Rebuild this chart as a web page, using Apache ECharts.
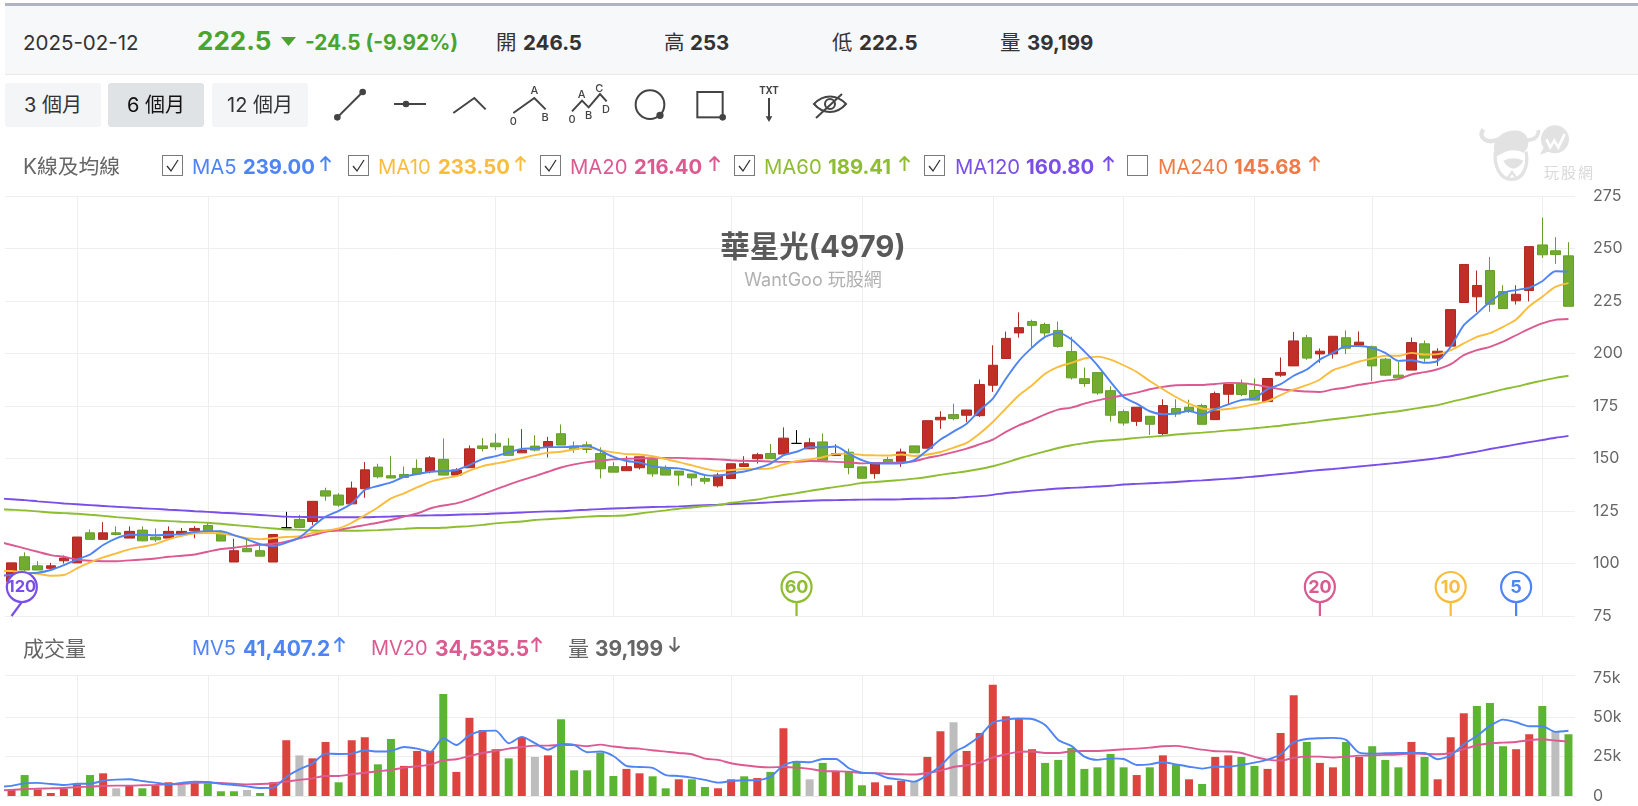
<!DOCTYPE html>
<html lang="zh-Hant">
<head>
<meta charset="utf-8">
<title>華星光(4979) K線圖</title>
<script src="https://cdn.jsdelivr.net/npm/echarts@6/dist/echarts.min.js"></script>
<style>
  html, body { margin: 0; padding: 0; background: #fff; width: 1638px; height: 806px; overflow: hidden; }
  body { font-family: Inter, "Noto Sans CJK TC", sans-serif; color: #333; position: relative; }
  #chart { position: absolute; left: 0; top: 0; width: 1638px; height: 806px; }
  .bar-top { position: absolute; left: 5px; right: 0; top: 3px; height: 3px; background: #b1b3c1; }
  .panel { position: absolute; left: 5px; right: 0; top: 6px; height: 68px; background: #f7f8fa; border-bottom: 1px solid #e9e9e9; }
  .t { position: absolute; white-space: nowrap; line-height: 1; }
  .b { font-weight: 700; }
  .h { font-size: 20.5px; top: 33px; }
  .btn { position: absolute; top: 83px; height: 44px; line-height: 44px; text-align: center; background: #f4f5f7; border-radius: 3px; font-size: 20px; color: #333; }
  .btn.on { background: #dfe3e6; color: #111; }
  .cb { position: absolute; top: 155px; width: 19px; height: 19px; border: 1px solid #7a7a7a; background: #fff; }
  .cb svg { position: absolute; left: 2px; top: 2px; }
  .ar { position: absolute; width: 13px; height: 15px; }
  svg.overlay { position: absolute; overflow: visible; }
  .m { font-size: 20.3px; top: 157px; }
  .v { font-size: 20.3px; top: 157px; font-weight: 700; }
  .m2 { font-size: 20px; top: 638px; }
  .v2 { font-size: 21px; top: 638px; font-weight: 700; }
</style>
</head>
<body>
<div id="chart"></div>

<div class="bar-top"></div>
<div class="panel"></div>
<span class="t h" style="left:23px;color:#333">2025-02-12</span>
<span class="t b" style="left:197px;top:28px;font-size:26px;color:#4aa52f">222.5</span>
<svg class="overlay" style="left:281px;top:37px" width="16" height="9"><path d="M0 0H15L7.5 9Z" fill="#4aa52f"/></svg>
<span class="t b h" style="left:305px;font-size:20.8px;color:#4aa52f">-24.5 (-9.92%)</span>
<span class="t h" style="left:496px">開</span><span class="t b h" style="left:523px">246.5</span>
<span class="t h" style="left:664px">高</span><span class="t b h" style="left:690px">253</span>
<span class="t h" style="left:832px">低</span><span class="t b h" style="left:859px">222.5</span>
<span class="t h" style="left:1000px">量</span><span class="t b h" style="left:1027px">39,199</span>

<div class="btn" style="left:5px;width:96px">3 個月</div>
<div class="btn on" style="left:108px;width:96px">6 個月</div>
<div class="btn" style="left:212px;width:96px">12 個月</div>

<!-- drawing tools -->
<svg class="overlay" style="left:320px;top:78px" width="520" height="52" viewBox="0 0 1560 156"
     fill="none" stroke="#444" stroke-width="6" font-family="Inter, sans-serif">
  <path d="M52 118L128 42"/><circle cx="52" cy="118" r="7" fill="#444"/><circle cx="128" cy="42" r="7" fill="#444"/>
  <path d="M222 78H318"/><circle cx="258" cy="78" r="7" fill="#444"/>
  <path d="M400 105L463 60L497 94"/>
  <path d="M580 105L643 60L677 94"/>
  <path d="M756 100L786 68L806 88L840 48L860 70"/>
  <circle cx="990" cy="80" r="43"/><circle cx="1020" cy="112" r="8" fill="#444"/>
  <rect x="1132" y="42" width="76" height="76"/><circle cx="1208" cy="118" r="7" fill="#444"/>
  <path d="M1347 60V124"/><path d="M1337 115H1357L1347 132Z" fill="#444" stroke="none"/>
  <path d="M1482 78C1510 48 1550 48 1578 78C1550 110 1510 110 1482 78Z"/>
  <circle cx="1530" cy="78" r="15"/><path d="M1488 120L1566 48"/>
  <g fill="#444" stroke="none" font-size="33" font-weight="500" text-anchor="middle">
    <text x="643" y="49">A</text><text x="675" y="130">B</text><text x="580" y="142">0</text>
    <text x="785" y="60">A</text><text x="806" y="124">B</text><text x="756" y="134">0</text>
    <text x="838" y="42">C</text><text x="858" y="104">D</text>
    <text x="1347" y="49" font-size="29" font-weight="700">TXT</text>
  </g>
</svg>

<!-- moving average legend -->
<svg width="0" height="0" style="position:absolute">
  <symbol id="up" viewBox="0 0 13 15"><path d="M6.5 15V1M1.5 6L6.5 1L11.5 6" fill="none" stroke="currentColor" stroke-width="2"/></symbol>
  <symbol id="dn" viewBox="0 0 13 15"><path d="M6.5 0V14M1.5 9L6.5 14L11.5 9" fill="none" stroke="currentColor" stroke-width="2"/></symbol>
  <symbol id="tick" viewBox="0 0 15 15"><path d="M2 8L6 13L13 2" fill="none" stroke="#333" stroke-width="1.3"/></symbol>
</svg>
<span class="t" style="left:23px;top:157px;font-size:20.8px;color:#666">K線及均線</span>

<div class="cb" style="left:162px"><svg width="15" height="15"><use href="#tick"/></svg></div>
<span class="t m" style="left:192px;color:#4e84f4">MA5</span><span class="t v" style="left:243px;color:#4e84f4">239.00</span>
<svg class="ar" style="left:319px;top:156px;color:#4e84f4"><use href="#up"/></svg>

<div class="cb" style="left:348px"><svg width="15" height="15"><use href="#tick"/></svg></div>
<span class="t m" style="left:378px;color:#f9bd3d">MA10</span><span class="t v" style="left:438px;color:#f9bd3d">233.50</span>
<svg class="ar" style="left:514px;top:156px;color:#f9bd3d"><use href="#up"/></svg>

<div class="cb" style="left:540px"><svg width="15" height="15"><use href="#tick"/></svg></div>
<span class="t m" style="left:570px;color:#dc5a92">MA20</span><span class="t v" style="left:634px;color:#dc5a92">216.40</span>
<svg class="ar" style="left:708px;top:156px;color:#dc5a92"><use href="#up"/></svg>

<div class="cb" style="left:734px"><svg width="15" height="15"><use href="#tick"/></svg></div>
<span class="t m" style="left:764px;color:#8ebd32">MA60</span><span class="t v" style="left:828px;color:#8ebd32">189.41</span>
<svg class="ar" style="left:898px;top:156px;color:#8ebd32"><use href="#up"/></svg>

<div class="cb" style="left:924px"><svg width="15" height="15"><use href="#tick"/></svg></div>
<span class="t m" style="left:955px;color:#7a4fe8">MA120</span><span class="t v" style="left:1026px;color:#7a4fe8">160.80</span>
<svg class="ar" style="left:1102px;top:156px;color:#7a4fe8"><use href="#up"/></svg>

<div class="cb" style="left:1127px"></div>
<span class="t m" style="left:1158px;color:#f07b47">MA240</span><span class="t v" style="left:1234px;color:#f07b47">145.68</span>
<svg class="ar" style="left:1308px;top:156px;color:#f07b47"><use href="#up"/></svg>

<!-- site mark -->
<svg class="overlay" style="left:1470px;top:120px" width="100" height="70" viewBox="0 0 300 210" fill="none">
  <path d="M40 28C22 52 50 74 88 58" stroke="#e2e2e2" stroke-width="13"/>
  <path d="M205 30C207 50 192 62 165 60" stroke="#e2e2e2" stroke-width="11"/>
  <path d="M72 88C70 44 122 22 156 36C182 50 180 86 160 98C130 84 108 92 76 112Z" fill="#e2e2e2"/>
  <path d="M76 95C72 135 88 178 125 178C162 178 176 135 168 95" stroke="#e2e2e2" stroke-width="10"/>
  <path d="M100 122Q130 108 160 122Q150 142 130 146Q110 142 100 122Z" fill="#e2e2e2"/>
  <path d="M112 176L126 156L140 176" stroke="#e2e2e2" stroke-width="7"/>
  <circle cx="255" cy="58" r="42" fill="#e2e2e2"/><path d="M222 80L210 104L240 94Z" fill="#e2e2e2"/>
  <path d="M229 58L241 82L253 62L265 82L284 42" stroke="#fff" stroke-width="8"/>
</svg>
<span class="t" style="left:1544px;top:165px;font-size:15px;letter-spacing:2px;color:#d9d9d9">玩股網</span>

<!-- volume legend -->
<span class="t" style="left:23px;top:638px;font-size:21px;color:#666">成交量</span>
<span class="t m2" style="left:192px;color:#4e84f4">MV5</span><span class="t v2" style="left:243px;color:#4e84f4">41,407.2</span>
<svg class="ar" style="left:333px;top:637px;color:#4e84f4"><use href="#up"/></svg>
<span class="t m2" style="left:371px;color:#dc5a92">MV20</span><span class="t v2" style="left:435px;color:#dc5a92">34,535.5</span>
<svg class="ar" style="left:530px;top:637px;color:#dc5a92"><use href="#up"/></svg>
<span class="t m2" style="left:568px;font-size:21px;color:#666">量</span><span class="t v2" style="left:595px;color:#666">39,199</span>
<svg class="ar" style="left:668px;top:637px;color:#666"><use href="#dn"/></svg>

<script>
// Daily candles, oldest session first
const opens = [
  91.5,103.2,98.9,97.7,101.3,100.3,114.6,111.5,114.6,112.1,
  115.9,112.6,112.1,114,115.6,118.1,114.6,100.7,107.2,106.1,
  100.7,117,121,120,134.6,132.6,128.4,135.6,145.9,141.8,
  142.4,145.3,143.7,149.6,142.1,145.6,156,157.3,155.9,152.7,
  155.9,155.6,161.8,155.9,156.5,152.4,146.1,144.2,145.6,149.6,
  145.6,144,142.6,140.5,137,140.5,146.2,149.9,152.4,152.1,
  157.2,154.6,157.9,151.4,153,146,142.8,149.5,148.5,156,
  154.9,168.4,170.9,170.6,170.4,184.9,197.6,209.8,215.2,213.8,
  210.9,200.9,188,190.9,182.3,172.3,167.7,170.1,161.9,173.8,
  174.4,175.2,168.5,180.6,185.7,182.4,177.1,189.7,194.1,207.5,
  199.8,199.8,207.5,204,203.2,197.3,189.7,192.1,204.6,197.8,
  203.5,224.3,227,239.5,229.5,225.1,230,251.7,248.9,246.5
];
const closes = [
  100.3,96.9,96.9,98.9,102.6,112.6,111.5,114.6,113.8,115.3,
  110.8,111.3,115.3,115.3,116.7,115.6,110.7,106.1,105.6,103.5,
  113.8,117,117.2,129.6,132.1,127.8,135.9,144.6,141.3,140.7,
  141,142.6,150.3,142.1,144.5,154.6,154.8,155.6,151.5,154,
  154,158.1,156.4,154.3,154.3,145.1,143.5,146.1,150.8,142.7,
  142.1,142.1,140.8,139.2,142.1,147.5,147.5,151.8,149.9,159.7,
  157.2,157.5,149.2,152.3,145.7,140.6,147.6,147.6,153.1,152.7,
  168,169.6,169,173.1,185.2,194.4,207.2,212.3,213.4,209.8,
  203.4,188.4,185.7,181.2,170.6,166.9,174.4,166.3,175.2,171.2,
  172.6,166.3,180.9,185.2,180.5,177.8,188.1,191,206,197.8,
  201.1,208.2,202.5,205.4,194.1,189.7,188.4,205.2,197.8,201.1,
  220.9,242.4,232.4,223.5,221.4,228.2,250.9,247,247.1,222.5
];
const highs = [
  100.3,105.3,101.1,100.3,103.8,112.6,116.2,119.7,117.7,117.7,
  117.7,116.7,117.7,116.9,117.8,119.4,115.9,111.8,111.5,108.8,
  113.8,124.6,123.2,129.6,136.1,133.5,139,148.3,147.5,151.1,
  146.2,149.6,151.1,159.5,145.4,156.2,159.7,161.9,159.7,164,
  161.1,160.3,166.2,158.1,158.1,155.3,148.3,151.1,150.8,149.6,
  146.7,144,142.6,142.1,143.2,147.5,151.1,152.7,156.9,164.8,
  163.5,159.7,161.9,156.8,154.7,146,147.6,150.8,154.7,156,
  168,172.5,176.1,173.1,187.6,203.9,210.4,219.6,216.1,214.7,
  215.2,208,193.3,190.9,184.4,173.3,174.4,170.1,178.2,178.2,
  178,176.1,181.9,185.2,187.6,188.1,188.1,198.1,210.3,208.9,
  202.4,208.2,211,210.5,203.8,197.9,196,207.6,206.2,202.5,
  220.9,242.4,239.5,246,232.5,232.5,250.9,264.7,255.4,253
];
const lows = [
  91.5,96.5,96.9,96.9,100,100.3,111.5,111.5,113.4,112.1,
  110.5,110.3,112.1,112.7,112,115.6,110.7,100.7,105.6,103.5,
  100.7,117,117.2,118.4,129.9,127,128.4,131.3,140.5,140.7,
  141,142.6,142.9,142.1,142.1,145.6,153.4,154,151.5,152.7,
  153.4,150.5,156.4,152.7,152.7,140.5,143.5,144.2,144.8,141.3,
  142.1,137,137,137.8,136.2,140.5,146.2,147.6,149.9,152.1,
  157.2,154.6,149.2,151.4,142.5,140.6,140.4,147.6,146,152.7,
  154.9,164.1,168.2,167.4,169.8,181.7,197.6,207.6,202.8,207.9,
  202.8,187.6,184.1,180.3,167.6,165.7,165.5,161.2,160.9,169.8,
  171.7,166.3,168.5,175.9,179.7,177.8,177.1,188.9,194.1,197,
  195.6,197.6,199.7,204,186.8,189.2,188.4,192.1,196,194.1,
  203.5,224.3,219.7,219.8,221.4,223.3,224.8,245.5,242.7,222.5
];

// Moving averages of the close. Each list opens with the session just before the
// visible window, so the lines run out to the pane's left edge.
const ma5 = [
  94.2,
  94.5,95.3,95.6,96.9,99.2,101.9,104.3,108.8,112,113.7,
  113.7,113.5,113.7,114,115,115.4,115.4,113.5,111.5,109.2,
  108.3,109.9,112.4,117.5,122.3,125.1,128.6,135,136.9,138.6,
  141.3,142.6,143.7,144,144.5,146.9,149.7,151.1,152.9,154.6,
  154.8,155.4,155.4,155.7,156,153.7,150.8,148.8,148.1,146.4,
  145.6,145.3,144,142.1,141.8,142.9,143.8,145.4,147.6,151.5,
  153.2,155.4,155.3,155.7,152.3,149.2,147.6,147.6,147.7,149.2,
  153.9,159,162.8,166.6,173,178.5,188,196.5,202.8,207.9,
  209.8,206.8,201,194.4,186.5,179.3,176.1,172.5,171.1,171.4,
  172.6,171.1,173.5,175.8,177.8,178.6,183,185.4,189.4,192.4,
  197.1,200.3,203.5,203.6,202.7,200.3,196.5,196.8,195.6,196.5,
  203.2,213.5,219,224.6,228.9,230.2,231.4,234.4,239.2,239
];
const ma10 = [
  96.6,
  96.4,95.8,95.1,94.2,94.5,97.7,100.5,102.9,104.8,106.7,
  108,109.2,111.5,113.2,114.3,114.5,114.3,113.4,112.1,111.6,
  112.1,112.6,113,114.6,115.6,116.7,119.4,123,126.7,131,
  133.4,136.2,138.9,140.5,141.6,144.2,146.4,147.6,148.8,150.2,
  151.6,152.7,153.2,154.3,155.3,154,152.9,152.1,151.9,151.1,
  149.7,148.3,146.7,145.1,144,144.5,145,145,145.3,147.2,
  148.8,149.6,150.6,152.2,152.3,151.7,151.5,151.4,151.9,151.2,
  151.9,153.1,155.2,157.4,161.9,167.4,173.8,180.1,184.9,190.4,
  193.6,195.5,197.6,198.5,197.1,194.4,191.2,186.9,183,179.3,
  176.1,173.8,173.3,173.6,174.6,175.9,177.3,180.2,182.9,184.9,
  187.6,192.1,194.1,196.2,197.6,198.9,198.9,200.3,199.5,199.7,
  201.6,204.8,207.9,209.7,212.7,216.2,222.5,227,231.7,233.5
];
const ma20 = [
  110.4,
  108.8,107.2,105.6,104,103.2,101.9,101.3,101.1,101.1,101.5,
  101.9,102.4,103.2,103.7,104.3,105.6,106.9,107.5,108.3,108.9,
  109.4,110.4,112,113.5,115.1,115.9,117.2,118.3,119.4,120.7,
  122.3,123.8,126.2,127.6,128.6,130.5,132.9,135.3,137.6,139.7,
  141.6,143.7,145.7,147.2,148.3,148.9,149.6,149.9,150,150.2,
  150.3,150.3,150,149.9,149.6,149.2,148.9,148.8,148.6,148.4,
  148.4,148.8,148.7,148.4,148.1,147.7,147.9,147.9,148.1,148.7,
  150.3,151.5,153,154.7,156.8,159,162.7,165.8,168.2,171,
  173.3,174.2,176.1,177.7,179,180.1,181.4,183,184.1,184.9,
  185,185,185.5,186,185.9,185.2,184.1,183,182.4,181.9,
  181.7,182.9,183.8,185.1,186,187.1,187.8,190,191.1,192.5,
  194.9,199.2,201.6,203.2,205.6,208.7,211.7,214.3,216,216.4
];
const ma60 = [
  125.9,
  125.6,125.3,124.8,124.3,124,123.7,123.2,122.7,122.1,121.6,
  121,120.5,120.2,119.9,119.7,119.4,118.9,118.3,117.8,117.2,
  116.7,116.2,116.1,115.7,115.6,115.6,115.6,115.7,115.9,116.2,
  116.5,116.9,116.9,117,117.5,117.8,118.4,119.1,119.6,120,
  120.7,121.1,121.5,121.9,122.3,122.6,122.7,123,123.8,124.6,
  125.3,126.1,126.7,127.3,127.8,128.9,129.7,130.5,131.6,132.6,
  133.5,134.6,135.5,136.5,137.3,138.4,138.8,139.3,139.8,140.4,
  141.2,142.2,143.1,143.9,145,146.3,148,150,151.7,153.4,
  155,156.3,157.3,158.2,158.7,159.2,159.8,160.3,160.8,161.4,
  161.9,162.3,162.8,163.4,163.8,164.4,165,165.6,166.4,167.1,
  167.9,168.7,169.4,170.2,171,171.8,172.5,173.5,174.5,175.4,
  177,178.4,179.9,181.4,182.9,184.2,185.7,187.1,188.4,189.41
];
const ma120 = [
  131,
  130.6,130.2,129.6,129.1,128.6,128.2,127.8,127.4,127,126.7,
  126.3,126,125.6,125.3,124.9,124.6,124.2,123.9,123.5,123.1,
  122.7,122.3,122.2,122.1,122,122,122,122,122.2,122.4,
  122.7,122.8,122.9,123,123.2,123.4,123.5,123.8,124,124.3,
  124.6,124.8,124.9,125.3,125.6,125.9,126.2,126.4,126.7,126.9,
  127,127.2,127.5,127.8,128,128.3,128.6,128.8,129.1,129.4,
  129.6,129.9,130.1,130.2,130.3,130.4,130.5,130.5,130.6,130.8,
  130.9,131,131.2,131.7,132.1,132.7,133.6,134.1,134.7,135.2,
  135.7,136,136.3,136.7,137,137.6,137.9,138.2,138.5,138.8,
  139.3,139.6,140,140.4,140.8,141.4,142,142.6,143.2,143.9,
  144.5,145,145.6,146.2,146.8,147.4,148,148.7,149.4,150.2,
  151.1,152.2,153.3,154.5,155.6,156.7,157.8,158.8,159.9,160.8
];

// Daily volume in lots; side marks the bar tone: r = up, g = down, n = neutral
const volumes = [
  4200,13300,4200,1900,4700,7400,13300,14400,4900,6400,
  4900,6600,8700,7000,9500,8100,3000,3000,3800,1900,
  8700,35400,25800,23900,34300,8700,35400,37300,20100,36200,
  19100,28600,28600,64800,15300,49600,41900,29700,23900,37300,
  24800,25800,48700,16300,16300,27500,12700,17200,14400,12500,
  4900,10600,10600,5700,4900,10600,12500,11400,15300,43000,
  22000,10600,21000,15500,15500,6800,8700,6800,9700,9500,
  24800,41100,46800,28600,40000,70600,50600,49400,29700,21000,
  22900,30500,17200,18200,26700,18200,13300,18200,25800,20100,
  10600,7600,24800,25800,24800,19100,17200,40000,64000,34300,
  21000,18200,34300,24800,31600,22900,18200,34300,24800,10600,
  37300,52500,57200,59100,31600,29700,39200,57200,41100,39199
];
const volumeSides =
  'rgrrrrgrnr' + 'grrnrgggng' + 'rrnrrgrrgg' + 'rrrgrrrrgr' + 'nrgggggrrg' +
  'grggrrgrgr' + 'gngrggrrrn' + 'rrnrrrrrrg' + 'ggggggrgrg' + 'rgrrggrrrg' +
  'rrgrgggrgr' + 'rrgggrrgng';
const mv5 = [
  5800,
  6400,8100,8300,7600,7000,7800,7800,9700,10400,10600,
  9500,8500,7400,8300,9100,8900,7800,7000,6100,5100,
  5300,12100,16900,20600,26900,26700,26900,29000,28200,28600,
  31100,30100,28000,36700,32400,38600,41300,41500,33500,37500,
  33500,29400,33000,32400,27800,28200,25400,19100,18400,17800,
  13300,12700,11700,10200,8500,9500,10000,10000,12100,19500,
  21800,21400,23500,23500,17600,14800,14400,11400,10400,9100,
  13300,19100,27500,32000,38100,46600,48500,49200,48900,45100,
  35600,31800,25000,22900,23900,23500,19700,20100,21600,20100,
  18600,17400,18600,18600,19700,21200,23100,26500,34100,36200,
  36700,36900,35600,27500,26900,27100,27300,27300,27300,23300,
  25800,32800,38100,44500,48500,46800,44300,44300,40700,41407
];
const mv20 = [
  3600,
  3800,4400,4700,4900,5100,5700,5900,6400,6600,6600,
  6800,7000,7400,7600,8300,8500,8300,7800,7400,7600,
  8100,9100,10200,11200,12700,12700,13800,14800,15700,16500,
  18000,18900,19900,22700,23300,25400,27300,28600,30100,31100,
  32000,32000,32400,32400,31600,32600,31400,30500,30100,29000,
  28200,27300,26500,23700,22900,20800,19500,18600,18200,18400,
  18000,17200,15900,15700,15500,14600,14600,14000,13800,13600,
  14600,16100,18400,19500,21200,24400,26500,28000,28200,27300,
  27300,28400,28600,28600,29000,29700,30100,30700,31600,31800,
  30700,29400,28400,28200,27300,24800,23100,22500,24200,25000,
  25000,24400,25000,25600,25800,26100,26300,26900,26700,26500,
  27300,29700,32200,33500,33900,34300,35400,36000,35200,34536
];

// Session 0 sits just left of the window; sessions 1 to 120 are the visible bars
const sessions = ma5.map((_, i) => String(i));
const gridSessions = [6, 16, 26, 38, 47, 56, 66, 76, 86, 96, 105, 118];
const pinPeriods = [120, 60, 20, 10, 5];
const pinColors = ['#7a4fe8', '#8ebd32', '#dc5a92', '#f9bd3d', '#4e84f4'];
const priceTicks = { min: 75, max: 275, step: 25 };
const volumeTicks = [0, 25000, 50000, 75000];

const gridColor = '#eeeeee';
const sideColor = { r: '#dd4440', g: '#5bb533', n: '#bdbdbd' };

const chart = echarts.init(document.getElementById('chart'));

const xAxisBase = {
  type: 'category',
  data: sessions,
  boundaryGap: true,
  axisLine: { show: false },
  axisTick: { show: false },
  axisLabel: { show: false },
  splitLine: {
    show: true,
    alignWithLabel: true,
    interval: (i) => gridSessions.includes(i),
    lineStyle: { color: gridColor, width: 1 }
  }
};
const yLabel = { color: '#666', fontSize: 16, fontFamily: 'Inter, sans-serif', margin: 18 };

function lineSeries(name, data, color, axis) {
  return {
    name, type: 'line', data,
    xAxisIndex: axis, yAxisIndex: axis,
    smooth: 0.25, symbol: 'none', silent: true,
    lineStyle: { color, width: 1.9 },
    z: 4
  };
}

// Circular period badges standing on the bottom of the price pane
function renderPin(params, api) {
  const base = api.coord([api.value(0), api.value(1)]);
  const color = pinColors[params.dataIndex];
  const label = String(pinPeriods[params.dataIndex]);
  const r = 15;
  const cx = base[0] < 25 ? base[0] + 10.3 : base[0];
  const cy = base[1] - 29;
  return {
    type: 'group',
    children: [
      { type: 'line', shape: { x1: cx, y1: cy + r, x2: base[0], y2: base[1] }, style: { stroke: color, lineWidth: 2.2 } },
      { type: 'circle', shape: { cx, cy, r }, style: { fill: '#fff', stroke: color, lineWidth: 2.2 } },
      { type: 'text', style: {
          x: cx, y: cy + 0.5, text: label, fill: color,
          font: 'bold ' + (label.length > 2 ? 16.5 : 18) + 'px Inter, sans-serif',
          align: 'center', verticalAlign: 'middle'
      } }
    ]
  };
}

chart.setOption({
  animation: false,
  backgroundColor: 'transparent',
  title: {
    text: '華星光(4979)',
    subtext: 'WantGoo 玩股網',
    left: 808,
    top: 228,
    textAlign: 'center',
    itemGap: 9,
    textStyle: { fontSize: 29.5, fontWeight: 700, color: '#595959', fontFamily: 'Inter, "Noto Sans CJK TC", sans-serif' },
    subtextStyle: { fontSize: 18, color: '#b0b0b0', fontFamily: 'Inter, "Noto Sans CJK TC", sans-serif' }
  },
  grid: [
    { left: 5, right: 63, top: 196, height: 420 },
    { left: 5, right: 63, top: 675, height: 121 }
  ],
  xAxis: [
    { ...xAxisBase, gridIndex: 0 },
    { ...xAxisBase, gridIndex: 1 }
  ],
  yAxis: [
    {
      gridIndex: 0, type: 'value', position: 'right',
      min: priceTicks.min, max: priceTicks.max, interval: priceTicks.step,
      axisLine: { show: false }, axisTick: { show: false },
      axisLabel: yLabel,
      splitLine: { lineStyle: { color: gridColor, width: 1 } }
    },
    {
      gridIndex: 1, type: 'value', position: 'right',
      min: 0, max: 76800,
      axisLine: { show: false },
      axisTick: { show: false, customValues: [0, 25000, 50000, 76800] },
      axisLabel: {
        ...yLabel,
        padding: [2, 0, 0, 0],
        customValues: volumeTicks,
        formatter: (v) => (v === 0 ? '0' : v / 1000 + 'k')
      },
      splitLine: { lineStyle: { color: gridColor, width: 1 } }
    }
  ],
  // Keep session 0 outside the panes; its line segment is cut at the grid edge
  dataZoom: [
    { type: 'inside', xAxisIndex: [0, 1], startValue: 1, endValue: sessions.length - 1, filterMode: 'none', disabled: true }
  ],
  series: [
    {
      type: 'candlestick',
      xAxisIndex: 0, yAxisIndex: 0,
      data: [['-', '-', '-', '-']].concat(opens.map((o, i) => [o, closes[i], lows[i], highs[i]])),
      barWidth: 10,
      silent: true,
      itemStyle: {
        color: '#c12e27', color0: '#72ac2f',
        borderColor: '#ae2a22', borderColor0: '#659f2a',
        borderColorDoji: '#000000',
        borderWidth: 1
      },
      z: 2
    },
    lineSeries('MA120', ma120, '#7a4fe8', 0),
    lineSeries('MA60', ma60, '#8ebd32', 0),
    lineSeries('MA20', ma20, '#dc5a92', 0),
    lineSeries('MA10', ma10, '#f9bd3d', 0),
    lineSeries('MA5', ma5, '#4e84f4', 0),
    {
      type: 'custom',
      xAxisIndex: 0, yAxisIndex: 0,
      data: pinPeriods.map((p) => [opens.length - p + 1, priceTicks.min]),
      renderItem: renderPin,
      clip: false,
      silent: true,
      z: 6
    },
    {
      type: 'bar',
      xAxisIndex: 1, yAxisIndex: 1,
      barWidth: 8,
      silent: true,
      data: [null].concat(volumes.map((v, i) => ({ value: v, itemStyle: { color: sideColor[volumeSides[i]] } }))),
      z: 2
    },
    lineSeries('MV20', mv20, '#dc5a92', 1),
    lineSeries('MV5', mv5, '#4e84f4', 1)
  ]
});
</script>
</body>
</html>
